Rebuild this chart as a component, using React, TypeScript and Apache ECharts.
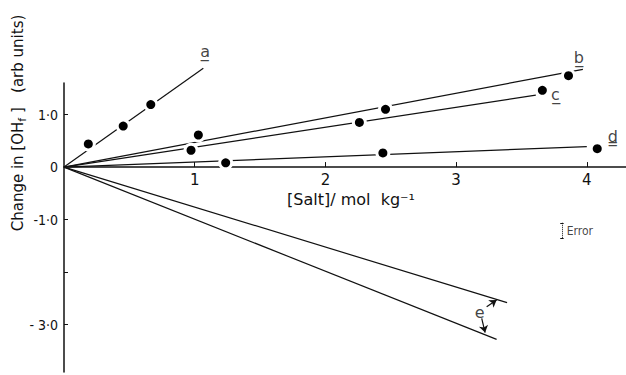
import React, { useEffect, useRef } from "react";
import * as echarts from "echarts";

// ---- data ----
const pointsA: number[][] = [[0.186, 0.44], [0.453, 0.78], [0.664, 1.19]];
const pointsB: number[][] = [[1.028, 0.61], [2.46, 1.1], [3.86, 1.74]];
const pointsC: number[][] = [[0.972, 0.32], [2.26, 0.85], [3.66, 1.46]];
const pointsD: number[][] = [[1.237, 0.08], [2.44, 0.27], [4.08, 0.35]];

const lineA: number[][] = [[0, 0], [1.066, 1.88]];
const lineB: number[][] = [[0, 0], [3.97, 1.86]];
const lineC: number[][] = [[0, 0], [3.61, 1.37]];
const lineD: number[][] = [[0, 0], [4.0, 0.39]];
const lineE1: number[][] = [[0, 0], [3.39, -2.58]];
const lineE2: number[][] = [[0, 0], [3.31, -3.28]];

const curveLabels = [
  { name: "a\u0332", value: [1.08, 2.2] },
  { name: "b\u0332", value: [3.94, 2.09] },
  { name: "c\u0332", value: [3.76, 1.38] },
  { name: "d\u0333", value: [4.2, 0.58] },
  { name: "e", value: [3.18, -2.76] },
];

const arrowE1: number[][] = [[3.234, -2.66], [3.31, -2.53]];
const arrowE2: number[][] = [[3.196, -2.88], [3.222, -3.15]];

const errorBar: number[][] = [[3.81, -1.06], [3.81, -1.35]];
const errorCapTop: number[][] = [[3.797, -1.06], [3.823, -1.06]];
const errorCapBottom: number[][] = [[3.797, -1.35], [3.823, -1.35]];
const errorLabel = { name: "Error", value: [3.87, -1.21] };

const yLabelValues = [1, 0, -1, -3];
const yLabelTexts = ["1·0", "0", "-1·0", "- 3·0"];
const yTickValues = [1, -1, -2, -3];
const xTickValues = [1, 2, 3, 4];
const xLabelTexts = ["1", "2", "3", "4"];

const xName = "[Salt]/ mol  kg⁻¹";
const yName = "Change in [OH{sub|f} ]   (arb units)";

const X_MIN = 0;
const X_MAX = 4.3;
const Y_MIN = -3.9;
const Y_MAX = 1.6;

const INK = "#111";
const FONT = "'DejaVu Sans', sans-serif";
const FONT_C = "'DejaVu Sans Condensed', 'DejaVu Sans', sans-serif";

const GRID = { left: 64, right: 0, top: 83, bottom: 3 };
const H = 375;

export default function App() {
  const ref = useRef<HTMLDivElement>(null);
  useEffect(() => {
    if (!ref.current) return;
    const chart = echarts.init(ref.current, null, { renderer: "svg" });

    const gridHeight = H - GRID.top - GRID.bottom;
    const xAxisOffset = -((0 - Y_MIN) / (Y_MAX - Y_MIN)) * gridHeight;

    const fitLine = (data: number[][]) => ({
      type: "line",
      data,
      symbol: "none",
      lineStyle: { color: INK, width: 1.2 },
      z: 2,
      clip: false,
      silent: true,
    });
    const whiteDots = (data: number[][]) => ({
      type: "scatter",
      data,
      symbolSize: 15,
      itemStyle: { color: "#fff", opacity: 1 },
      z: 3,
      clip: false,
      silent: true,
    });
    const blackDots = (data: number[][]) => ({
      type: "scatter",
      data,
      symbolSize: 9,
      itemStyle: { color: "#000", opacity: 1 },
      z: 4,
      clip: false,
      silent: true,
    });
    const seg = (coords: number[][], extra: any = {}) => ({
      type: "lines",
      coordinateSystem: "cartesian2d",
      data: [{ coords }],
      lineStyle: { color: INK, width: 1.2, opacity: 1, ...(extra.lineStyle || {}) },
      symbol: extra.symbol || ["none", "none"],
      symbolSize: extra.symbolSize || 6,
      z: 5,
      clip: false,
      silent: true,
    });

    chart.setOption({
      animation: false,
      backgroundColor: "#fff",
      textStyle: { fontFamily: FONT, color: INK },
      grid: { ...GRID, containLabel: false, outerBoundsMode: "none" },
      xAxis: {
        type: "value",
        min: X_MIN,
        max: X_MAX,
        interval: 1,
        position: "bottom",
        offset: xAxisOffset,
        axisLine: { onZero: false, lineStyle: { color: INK, width: 1.5 } },
        axisTick: { show: true, inside: true, length: 5, lineStyle: { color: INK }, customValues: xTickValues },
        axisLabel: {
          show: true,
          customValues: xTickValues,
          formatter: (v: number) => xLabelTexts[xTickValues.indexOf(v)] ?? "",
          fontSize: 15,
          color: INK,
          fontFamily: FONT,
          margin: 5,
        },
        splitLine: { show: false },
        name: xName,
        nameLocation: "middle",
        nameGap: 18,
        nameTextStyle: { fontSize: 16, color: INK, fontFamily: FONT, padding: [0, 0, 0, 12] },
      },
      yAxis: {
        type: "value",
        min: Y_MIN,
        max: Y_MAX,
        axisLine: { onZero: false, lineStyle: { color: INK, width: 1.5 } },
        axisTick: { show: true, inside: true, length: 4, lineStyle: { color: INK }, customValues: yTickValues },
        axisLabel: {
          show: true,
          customValues: yLabelValues,
          formatter: (v: number) => yLabelTexts[yLabelValues.indexOf(v)] ?? "",
          fontSize: 14,
          color: INK,
          fontFamily: FONT_C,
          margin: 6,
        },
        splitLine: { show: false },
      },
      graphic: [
        {
          type: "text",
          x: 18,
          y: 123,
          rotation: Math.PI / 2,
          style: {
            text: yName,
            font: `15px ${FONT}`,
            fill: INK,
            align: "center",
            verticalAlign: "middle",
            rich: {
              sub: { fontSize: 11, fontFamily: FONT, fill: INK, padding: [8, 0, 0, 0] },
            },
          },
        },
      ],
      series: [
        fitLine(lineA),
        fitLine(lineB),
        fitLine(lineC),
        fitLine(lineD),
        fitLine(lineE1),
        fitLine(lineE2),
        whiteDots(pointsA),
        whiteDots(pointsB),
        whiteDots(pointsC),
        whiteDots(pointsD),
        blackDots(pointsA),
        blackDots(pointsB),
        blackDots(pointsC),
        blackDots(pointsD),
        seg(arrowE1, { symbol: ["none", "arrow"], symbolSize: 7 }),
        seg(arrowE2, { symbol: ["none", "arrow"], symbolSize: 7 }),
        seg(errorBar, { lineStyle: { type: "dotted", width: 1 } }),
        seg(errorCapTop, { lineStyle: { width: 1 } }),
        seg(errorCapBottom, { lineStyle: { width: 1 } }),
        {
          type: "scatter",
          data: curveLabels,
          symbolSize: 1,
          itemStyle: { color: "rgba(0,0,0,0)" },
          label: {
            show: true,
            position: "inside",
            formatter: (p: any) => p.name,
            fontSize: 16,
            color: INK,
            fontFamily: FONT,
          },
          z: 6,
          clip: false,
          silent: true,
        },
        {
          type: "scatter",
          data: [errorLabel],
          symbolSize: 1,
          itemStyle: { color: "rgba(0,0,0,0)" },
          label: {
            show: true,
            position: "inside",
            formatter: (p: any) => p.name,
            fontSize: 12,
            color: INK,
            fontFamily: FONT_C,
            align: "left",
            offset: [-3, 0],
          },
          z: 6,
          clip: false,
          silent: true,
        },
      ],
    });
    return () => chart.dispose();
  }, []);
  return (
    <div
      ref={ref}
      style={{ position: "fixed", left: 0, top: 0, width: 626, height: H, background: "#fff" }}
    />
  );
}
